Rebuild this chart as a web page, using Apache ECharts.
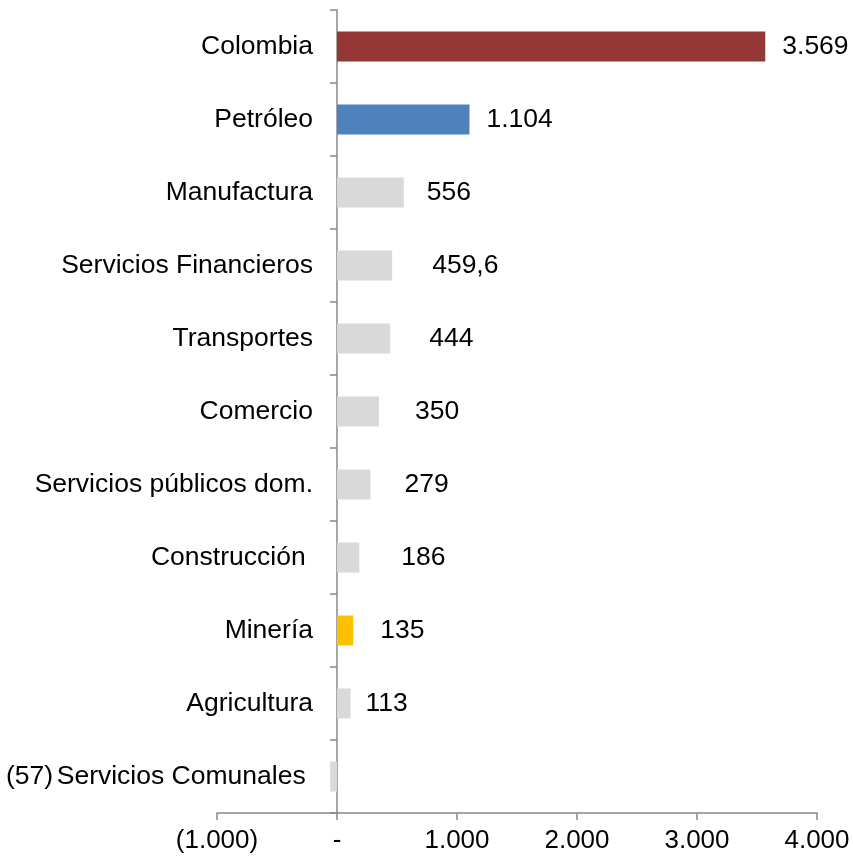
<!DOCTYPE html>
<html>
<head>
<meta charset="utf-8">
<script src="https://cdn.jsdelivr.net/npm/echarts@6/dist/echarts.min.js"></script>
<style>
html,body{margin:0;padding:0;background:#fff;}
#chart{width:853px;height:859px;}
</style>
</head>
<body>
<div id="chart"></div>
<script>
const categories = ['Colombia', 'Petróleo', 'Manufactura', 'Servicios Financieros', 'Transportes', 'Comercio', 'Servicios públicos dom.', 'Construcción ', 'Minería', 'Agricultura', 'Servicios Comunales '];
const values = [3569, 1104, 556, 459.6, 444, 350, 279, 186, 135, 113, -57];
const barColors = ['#953735', '#4F81BD', '#D9D9D9', '#D9D9D9', '#D9D9D9', '#D9D9D9', '#D9D9D9', '#D9D9D9', '#FFC000', '#D9D9D9', '#D9D9D9'];
const labelGaps = [17, 17, 23, 40, 39, 36, 34, 42, 27, 15, 277];
const xMin = -1000, xMax = 4000, xStep = 1000;

function fmt(v) {
  if (v === 0) return '-';
  const neg = v < 0;
  const a = Math.abs(v);
  const parts = String(a).split('.');
  const intPart = parts[0].replace(/\B(?=(\d{3})+(?!\d))/g, '.');
  const s = parts[1] ? intPart + ',' + parts[1] : intPart;
  return neg ? '(' + s + ')' : s;
}

const FONT = '"Liberation Sans", Arial, sans-serif';
const chart = echarts.init(document.getElementById('chart'));
chart.setOption({
  animation: false,
  backgroundColor: '#fff',
  grid: { left: 217, right: 36, top: 10, bottom: 46, containLabel: false, outerBoundsMode: 'none' },
  xAxis: {
    type: 'value', min: xMin, max: xMax, interval: xStep,
    axisLine: { show: true, lineStyle: { color: '#888', width: 1.5 } },
    axisTick: { show: true, length: 7, lineStyle: { color: '#888', width: 1.5 } },
    splitLine: { show: false },
    axisLabel: { color: '#000', fontSize: 26, fontFamily: FONT, margin: 15, formatter: fmt }
  },
  yAxis: {
    type: 'category', inverse: true, data: categories,
    axisLine: { show: true, onZero: true, lineStyle: { color: '#888', width: 1.5 } },
    axisTick: { show: true, length: 7, lineStyle: { color: '#888', width: 1.5 } },
    axisLabel: { color: '#000', fontSize: 26.5, fontFamily: FONT, margin: -96, padding: [4, 0, 0, 0] }
  },
  series: [{
    type: 'bar',
    barWidth: 30,
    data: values.map((v, i) => ({
      value: v,
      itemStyle: { color: barColors[i] },
      label: { position: v < 0 ? 'left' : 'right', distance: labelGaps[i] }
    })),
    label: {
      show: true, color: '#000', fontSize: 26.5, fontFamily: FONT, padding: [4, 0, 0, 0],
      formatter: p => fmt(p.value)
    }
  }]
});
</script>
</body>
</html>
